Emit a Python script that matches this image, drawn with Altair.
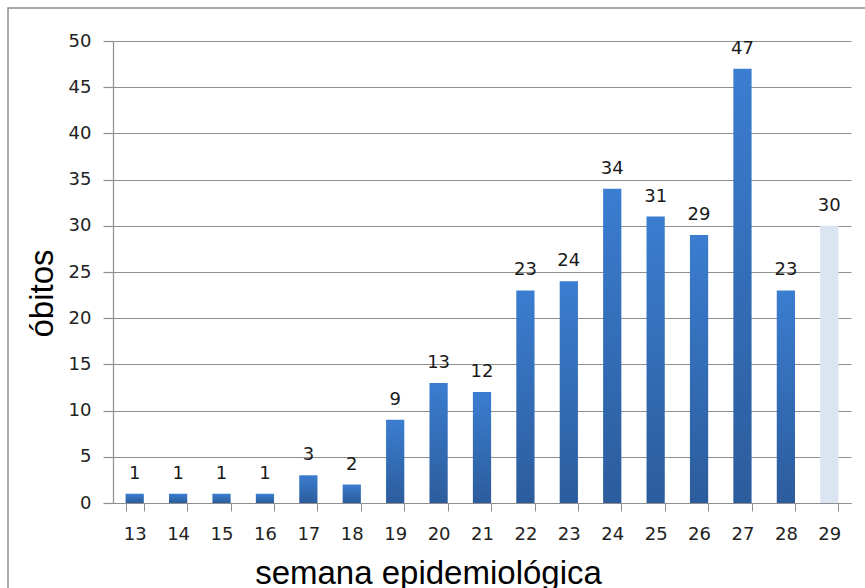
import altair as alt
import pandas as pd

# Weekly deaths by epidemiological week; the last week is still incomplete
semanas = ["13", "14", "15", "16", "17", "18", "19", "20", "21",
           "22", "23", "24", "25", "26", "27", "28", "29"]
obitos = [1, 1, 1, 1, 3, 2, 9, 13, 12, 23, 24, 34, 31, 29, 47, 23, 30]
parcial = [False] * 16 + [True]

df = pd.DataFrame({"semana": semanas, "obitos": obitos, "parcial": parcial})

GRID = "#8e8e8e"
NUM_FONT = "DejaVu Sans"
TITLE_FONT = "Liberation Sans"

x_enc = alt.X(
    "semana:N",
    sort=semanas,
    scale=alt.Scale(paddingInner=0.58, paddingOuter=0.29),
    axis=alt.Axis(
        title="semana epidemiológica",
        labelAngle=0,
        tickBand="extent",
        tickSize=8,
        tickColor=GRID,
        domainColor=GRID,
        labelFont=NUM_FONT,
        labelFontSize=18,
        labelColor="#222222",
        labelPadding=14,
        titleFont=TITLE_FONT,
        titleFontSize=33,
        titleFontWeight="normal",
        titleColor="#000000",
        titleX=315,
        titleY=80,
        titleAlign="center",
        titleBaseline="alphabetic",
    ),
)

y_enc = alt.Y(
    "obitos:Q",
    scale=alt.Scale(domain=[0, 50], nice=False),
    axis=alt.Axis(
        title="óbitos",
        values=[0, 5, 10, 15, 20, 25, 30, 35, 40, 45, 50],
        grid=True,
        gridColor=GRID,
        gridWidth=1.2,
        tickSize=10,
        tickColor=GRID,
        tickWidth=1.2,
        domainColor=GRID,
        domainWidth=1.2,
        labelFont=NUM_FONT,
        labelFontSize=18,
        labelColor="#222222",
        labelPadding=12,
        titleFont=TITLE_FONT,
        titleFontSize=33,
        titleFontWeight="normal",
        titleColor="#000000",
        titleX=-61,
        titleY=252,
        titleAlign="center",
        titleBaseline="alphabetic",
    ),
)

base = alt.Chart(df).encode(x=x_enc, y=y_enc)

bar_gradient = alt.Gradient(
    gradient="linear",
    x1=0, x2=0, y1=0, y2=1,
    stops=[
        alt.GradientStop(color="#3b7dd0", offset=0),
        alt.GradientStop(color="#2c5c9c", offset=1),
    ],
)

bars = base.transform_filter("!datum.parcial").mark_bar(color=bar_gradient)
bar_partial = base.transform_filter("datum.parcial").mark_bar(color="#dbe5f1")

labels = base.mark_text(
    baseline="alphabetic",
    dy=-15,
    font=NUM_FONT,
    fontSize=18,
    color="#1a1a1a",
).encode(text="obitos:Q")

# Outer frame of the chart area
frame = alt.Chart(pd.DataFrame({"f": [0]})).mark_rect(
    filled=False, stroke=GRID, strokeWidth=1.5
).encode(
    x=alt.value(-105), x2=alt.value(770),
    y=alt.value(-33), y2=alt.value(600),
)

chart = alt.layer(frame, bars, bar_partial, labels).properties(
    width=738,
    height=462,
    autosize=alt.AutoSizeParams(type="none"),
    padding={"left": 113, "top": 41, "right": 14, "bottom": 85},
    background="#ffffff",
).configure_view(strokeWidth=0)

chart.save("out.html", embed_options={"renderer": "svg", "actions": False})
